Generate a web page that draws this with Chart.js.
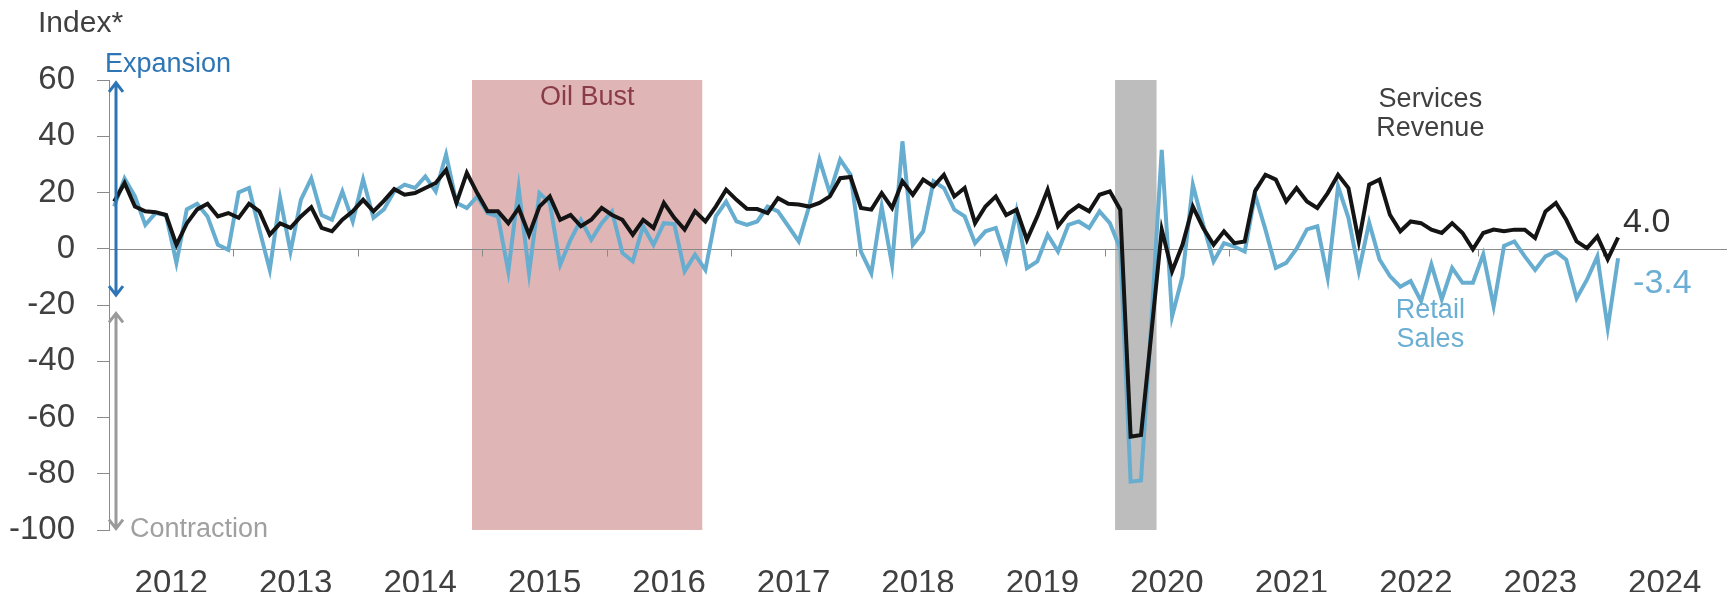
<!DOCTYPE html>
<html>
<head>
<meta charset="utf-8">
<script src="https://cdn.jsdelivr.net/npm/chart.js@4.4.1/dist/chart.umd.min.js"></script>
<style>
  html, body { margin: 0; padding: 0; background: #fff; }
  #wrap { width: 1728px; height: 592px; position: relative; }
</style>
</head>
<body>
<div id="wrap"><canvas id="chart"></canvas></div>
<script>
// Monthly index, Jan 2012 .. Feb 2024
const years = ['2012','2013','2014','2015','2016','2017','2018','2019','2020','2021','2022','2023','2024'];

const servicesRevenue = [
  16.8, 23.4, 15, 13.3, 13, 12, 1.4, 9, 14, 16, 11.5, 12.7,
  11, 16, 13.3, 5, 9, 7.4, 11.5, 14.8, 7.4, 6.2, 10.3, 13.3,
  17.4, 13.3, 17, 21.2, 19.2, 19.8, 21.6, 23.4, 28, 16.3, 27, 19.8,
  13.3, 13.3, 9.1, 14.5, 5, 15, 18.6, 10.3, 12, 8, 10.3, 14.5,
  12, 10.3, 5, 10.3, 7.4, 16.3, 11, 6.8, 13.3, 9.7, 15, 21,
  17.4, 14.2, 14.1, 12.7, 18, 16, 15.7, 15, 16.3, 18.6, 25.1, 25.5,
  14.5, 13.9, 19.8, 14.5, 24, 19.2, 24.6, 22.2, 26.3, 18.6, 21.6, 9.1,
  15, 18.6, 12, 13.9, 3.2, 11.5, 21, 8, 12.7, 15.4, 13.3, 19.2,
  20.4, 13.9, -66.8, -66.2, -30, 6.8, -8, 1.4, 15, 7.4, 1.4, 6.2,
  2, 2.6, 20.5, 26.3, 24.6, 16.8, 21.6, 16.8, 14.5, 19.8, 26.3, 21.6,
  2.6, 22.8, 24.6, 12.1, 6.2, 9.7, 9.1, 6.8, 5.6, 9.1, 5.6, -0.2,
  5.6, 6.8, 6.2, 6.8, 6.8, 3.8, 13.3, 16.3, 10.3, 2.6, 0.2, 4.4,
  -3.7, 4.0
];

const retailSales = [
  15, 25, 18.6, 8.5, 12.7, 12, -5, 14, 16, 11.5, 1.4, -0.4,
  20, 21.6, 6.8, -7.5, 18, -1, 17.4, 25, 12, 10.3, 20.4, 9.7,
  24.6, 11, 14, 20.4, 22.8, 21.6, 25.7, 20.4, 33.5, 16.3, 14.5, 18.6,
  12.7, 11.5, -8, 21.6, -8.7, 19.8, 16.3, -5.7, 3.2, 10.3, 3.2, 9.1,
  13.3, -1.5, -4.5, 8, 1.4, 9.1, 8.8, -8, -2.1, -7.5, 11.5, 16.8,
  9.7, 8.5, 9.7, 15, 13.3, 8, 2.6, 15, 31.7, 19.8, 31.7, 26.3,
  -1, -8.7, 15, -5.7, 38.2, 1.4, 6.2, 24, 21.6, 13.9, 11.5, 2,
  6.2, 7.4, -3.9, 13.3, -6.9, -4.5, 5, -1, 8.5, 9.7, 7.4, 13.3,
  9.1, 0, -82.8, -82.4, -26, 35.2, -24, -9.8, 22.8, 8.5, -4.5, 2,
  0.8, -1, 19.2, 6.8, -6.8, -5, 0, 6.9, 8, -10.3, 22.2, 11,
  -8, 9.3, -3.8, -9.7, -13.5, -11.5, -18.6, -5.6, -18, -6.8, -12.1, -12.1,
  -2, -20.4, 1, 2.6, -2.7, -7.5, -2.7, -1, -3.9, -17.6, -11, -2.7,
  -28.2, -3.4
];

const yTicks = [-100, -80, -60, -40, -20, 0, 20, 40, 60];

// shaded periods, in months from Jan 2012
const oilBust = [35, 57.2];
const covid = [97, 101];

const FONT = '"Liberation Sans", Arial, sans-serif';

const shading = {
  id: 'shading',
  beforeDatasetsDraw(chart) {
    const { ctx, chartArea, scales: { x, y } } = chart;
    const top = y.getPixelForValue(60), bottom = y.getPixelForValue(-100);
    ctx.save();
    ctx.fillStyle = '#dfb5b5';
    ctx.fillRect(x.getPixelForValue(oilBust[0]), top,
      x.getPixelForValue(oilBust[1]) - x.getPixelForValue(oilBust[0]), bottom - top);
    ctx.fillStyle = '#bdbdbd';
    ctx.fillRect(x.getPixelForValue(covid[0]), top,
      x.getPixelForValue(covid[1]) - x.getPixelForValue(covid[0]), bottom - top);

    // zero line with year ticks
    const y0 = Math.round(y.getPixelForValue(0)) + 0.5;
    ctx.strokeStyle = '#8a8a8a';
    ctx.lineWidth = 1;
    ctx.beginPath();
    ctx.moveTo(chartArea.left, y0);
    ctx.lineTo(chartArea.right, y0);
    for (let k = 1; k < years.length; k++) {
      const px = Math.round(x.getPixelForValue(k * 12)) + 0.5;
      ctx.moveTo(px, y0);
      ctx.lineTo(px, y0 + 7);
    }
    ctx.stroke();
    ctx.restore();
  }
};

function arrow(ctx, x, y1, y2, color) {
  ctx.strokeStyle = color;
  ctx.lineWidth = 3;
  ctx.beginPath();
  ctx.moveTo(x, y1);
  ctx.lineTo(x, y2);
  ctx.moveTo(x - 7, y1 + 9); ctx.lineTo(x, y1); ctx.lineTo(x + 7, y1 + 9);
  ctx.moveTo(x - 7, y2 - 9); ctx.lineTo(x, y2); ctx.lineTo(x + 7, y2 - 9);
  ctx.stroke();
}

const annotations = {
  id: 'annotations',
  afterDraw(chart) {
    const { ctx, chartArea, scales: { x, y } } = chart;
    ctx.save();
    ctx.textBaseline = 'middle';

    ctx.fillStyle = '#404040';
    ctx.font = '30px ' + FONT;
    ctx.textAlign = 'left';
    ctx.fillText('Index*', 38, 24);

    const ax = chartArea.left + 7;
    arrow(ctx, ax, y.getPixelForValue(59), y.getPixelForValue(-16.5), '#2e75b6');
    arrow(ctx, ax, y.getPixelForValue(-23), y.getPixelForValue(-99.5), '#9a9a9a');

    ctx.font = '27px ' + FONT;
    ctx.fillStyle = '#2e75b6';
    ctx.fillText('Expansion', chartArea.left - 4, 65);
    ctx.fillStyle = '#a0a0a0';
    ctx.fillText('Contraction', chartArea.left + 21, y.getPixelForValue(-100));

    ctx.textAlign = 'center';
    ctx.font = '27px ' + FONT;
    ctx.fillStyle = '#8a3c45';
    ctx.fillText('Oil Bust', (x.getPixelForValue(oilBust[0]) + x.getPixelForValue(oilBust[1])) / 2, 98);

    ctx.fillStyle = '#404040';
    const lx = x.getPixelForValue(127.4);
    ctx.fillText('Services', lx, 100);
    ctx.fillText('Revenue', lx, 129);

    ctx.fillStyle = '#6aaed3';
    ctx.fillText('Retail', lx, 311);
    ctx.fillText('Sales', lx, 340);

    const n = servicesRevenue.length;
    const endX = x.getPixelForValue(n - 0.5);
    ctx.textAlign = 'left';
    ctx.font = '34px ' + FONT;
    ctx.fillStyle = '#333333';
    ctx.fillText(servicesRevenue[n - 1].toFixed(1), endX + 5, 223);
    ctx.fillStyle = '#6aaed3';
    ctx.fillText(retailSales[n - 1].toFixed(1), endX + 15, 284);
    ctx.restore();
  }
};

const ctx = document.getElementById('chart').getContext('2d');
new Chart(ctx, {
  type: 'line',
  data: {
    datasets: [
      {
        label: 'Services Revenue',
        data: servicesRevenue.map((v, i) => ({ x: i + 0.5, y: v })),
        borderColor: '#141414',
        borderWidth: 4,
        pointRadius: 0,
        tension: 0
      },
      {
        label: 'Retail Sales',
        data: retailSales.map((v, i) => ({ x: i + 0.5, y: v })),
        borderColor: '#67adcf',
        borderWidth: 4,
        pointRadius: 0,
        tension: 0
      }
    ]
  },
  options: {
    responsive: true,
    maintainAspectRatio: false,
    animation: false,
    layout: { padding: { top: 80, right: 1, left: 0, bottom: 0 } },
    plugins: { legend: { display: false }, tooltip: { enabled: false } },
    scales: {
      x: {
        type: 'linear',
        min: 0,
        max: years.length * 12,
        afterBuildTicks(scale) {
          scale.ticks = years.map((_, k) => ({ value: k * 12 + 6 }));
        },
        afterFit(scale) { scale.height = 62; },
        ticks: {
          autoSkip: false,
          maxRotation: 0,
          padding: 26,
          color: '#404040',
          font: { family: FONT, size: 33 },
          callback: (v) => years[Math.round((v - 6) / 12)]
        },
        grid: { display: false },
        border: { display: false }
      },
      y: {
        min: yTicks[0],
        max: yTicks[yTicks.length - 1],
        afterBuildTicks(scale) {
          scale.ticks = yTicks.map(v => ({ value: v }));
        },
        afterFit(scale) { scale.width = 109; },
        ticks: {
          padding: 22,
          color: '#404040',
          font: { family: FONT, size: 33 }
        },
        grid: { drawOnChartArea: false, tickLength: 12, color: '#8a8a8a' },
        border: { display: true, color: '#8a8a8a', width: 1 }
      }
    }
  },
  plugins: [shading, annotations]
});
</script>
</body>
</html>
